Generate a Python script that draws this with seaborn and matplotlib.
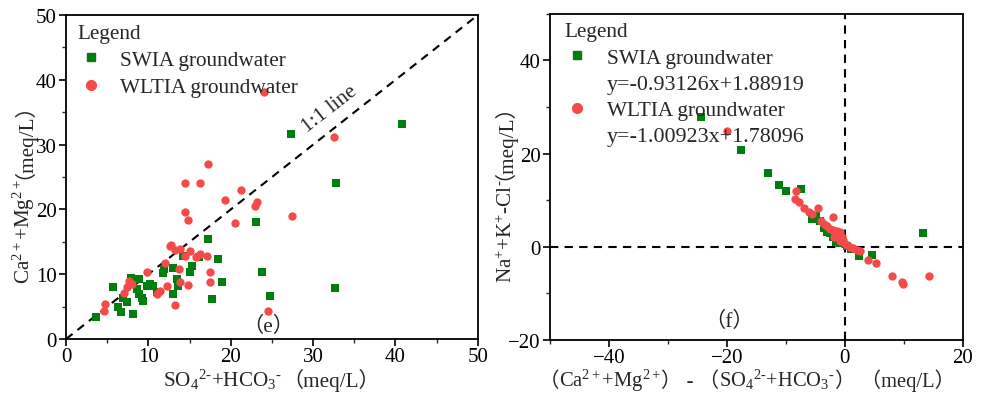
import numpy as np
import pandas as pd
import matplotlib
matplotlib.use("Agg")
import matplotlib.pyplot as plt
from matplotlib.lines import Line2D
from matplotlib.ticker import MultipleLocator
import seaborn as sns

# ---- Panel (e): (SO4 + HCO3) vs (Ca + Mg), meq/L ----
swia_e_x = [3.6, 5.7, 6.3, 6.7, 7.4, 8.1, 7.9, 8.9, 8.6, 8.9, 9.4, 9.8, 10.6, 11.8,
            11.9, 13.0, 13.0, 13.5, 13.6, 14.2, 15.0, 15.3, 16.2, 17.2, 18.4, 18.9,
            17.7, 23.8, 24.8, 32.6, 23.1, 27.3, 40.8, 32.8, 9.2, 10.2, 6.9, 11.0]
swia_e_y = [3.4, 8.0, 4.9, 4.2, 5.7, 3.9, 9.4, 9.3, 7.7, 7.0, 5.9, 8.2, 8.2, 10.2,
            10.8, 6.9, 11.0, 9.3, 8.2, 12.8, 10.3, 11.3, 12.7, 15.4, 12.3, 8.8,
            6.2, 10.3, 6.6, 7.9, 18.0, 31.6, 33.2, 24.1, 6.3, 8.5, 6.4, 7.3]

wltia_e_x = [4.7, 4.6, 7.0, 7.4, 7.6, 8.0, 9.8, 11.0, 11.4, 12.3, 12.6, 13.2, 13.2,
             12.7, 13.8, 14.4, 15.0, 15.8, 16.3, 17.1, 13.7, 13.8, 14.8, 17.5, 17.5,
             17.2, 14.4, 16.3, 21.2, 19.3, 23.2, 23.0, 14.4, 14.8, 20.5, 24.0, 32.5,
             27.5, 24.5, 12.0]
wltia_e_y = [5.4, 4.3, 7.1, 8.0, 8.9, 8.5, 10.3, 6.9, 7.4, 8.2, 14.4, 13.7, 5.3,
             14.5, 13.9, 12.8, 13.6, 12.7, 13.1, 12.8, 10.8, 8.8, 8.3, 10.3, 8.8,
             27.0, 24.1, 24.1, 23.0, 21.4, 21.1, 20.5, 19.6, 18.4, 17.9, 38.1, 31.2,
             19.0, 4.3, 11.8]

# ---- Panel (f): (Ca+Mg)-(SO4+HCO3) vs Na+K-Cl, meq/L ----
swia_f_x = [-24.4, -17.6, -13.1, -11.2, -10.0, -7.5, -4.9, -5.5, -3.6, -3.0, -2.0,
            -1.5, -0.8, 0.3, 1.0, 2.4, 4.6, 13.2, -4.2, -2.6]
swia_f_y = [27.8, 20.7, 15.8, 13.2, 12.0, 12.4, 6.6, 6.0, 4.1, 3.2, 2.1,
            1.0, 0.8, 0.2, -0.5, -1.9, -1.7, 3.0, 5.5, 3.0]

wltia_f_x = [-20.0, -8.3, -8.5, -7.8, -6.9, -6.1, -4.6, -5.5, -4.1, -2.0, -3.5, -3.0,
             -2.5, -2.0, -1.4, -0.8, -1.2, -0.5, -0.3, 0.0, 0.4, 0.8, 1.3, 2.0, 2.5,
             3.9, 5.3, 8.0, 9.7, 9.8, 14.2, -1.8, -0.9]
wltia_f_y = [24.8, 12.0, 10.3, 9.6, 8.3, 7.5, 8.3, 7.0, 5.6, 6.4, 4.8, 4.5,
             3.8, 3.6, 3.4, 3.2, 2.8, 2.1, 1.5, 0.6, 0.3, 0.0, -0.2, -0.6, -0.9,
             -2.8, -3.4, -6.2, -7.5, -8.1, -6.2, 2.0, 1.2]

series_names = ["SWIA groundwater", "WLTIA groundwater"]
fit_labels = ["y=-0.93126x+1.88919", "y=-1.00923x+1.78096"]

GREEN = "#007F0E"
RED = "#F44A4A"

SERIF = ["Liberation Serif", "Noto Sans CJK SC"]

sns.set_style("ticks")
plt.rcParams["font.family"] = SERIF
plt.rcParams["mathtext.fontset"] = "custom"
plt.rcParams["mathtext.rm"] = "Liberation Serif"
plt.rcParams["mathtext.it"] = "Liberation Serif:italic"
plt.rcParams["mathtext.bf"] = "Liberation Serif:bold"
plt.rcParams["axes.linewidth"] = 1.3
plt.rcParams["xtick.major.width"] = 1.2
plt.rcParams["ytick.major.width"] = 1.2
plt.rcParams["xtick.minor.width"] = 1.0
plt.rcParams["ytick.minor.width"] = 1.0
plt.rcParams["xtick.direction"] = "out"
plt.rcParams["ytick.direction"] = "out"

FS = 15.3       # legend / annotation text
EQ_FS = 15.8
TICK_FS = 15
LABEL_FS = 15.2
PLAIN_SHIFT = 13  # sideways nudge for plain (non-math) pieces of rotated labels (px)

fig = plt.figure(figsize=(9.83, 4.02), dpi=100)
ax1 = fig.add_axes([0.0671, 0.154, 0.419, 0.806])
ax2 = fig.add_axes([0.5595, 0.152, 0.420, 0.811])

df_e = pd.concat([
    pd.DataFrame({"x": swia_e_x, "y": swia_e_y, "group": series_names[0]}),
    pd.DataFrame({"x": wltia_e_x, "y": wltia_e_y, "group": series_names[1]}),
])
df_f = pd.concat([
    pd.DataFrame({"x": swia_f_x, "y": swia_f_y, "group": series_names[0]}),
    pd.DataFrame({"x": wltia_f_x, "y": wltia_f_y, "group": series_names[1]}),
])

palette = {series_names[0]: GREEN, series_names[1]: RED}
markers = {series_names[0]: "s", series_names[1]: "o"}
sizes = {series_names[0]: 28, series_names[1]: 36}

for ax, df in [(ax1, df_e), (ax2, df_f)]:
    for name in series_names:
        sub = df[df["group"] == name]
        sns.scatterplot(data=sub, x="x", y="y", ax=ax, color=palette[name],
                        marker=markers[name], s=sizes[name], linewidth=0,
                        legend=False, zorder=3)
    for side in ["top", "right", "left", "bottom"]:
        ax.spines[side].set_visible(True)
        ax.spines[side].set_color("black")
    ax.tick_params(axis="both", which="major", length=5, labelsize=TICK_FS,
                   top=False, right=False, colors="black")
    ax.tick_params(axis="both", which="minor", length=3, top=False, right=False)
    ax.tick_params(axis="y", which="major", pad=1.5)
    ax.set_xlabel("")
    ax.set_ylabel("")

ax1.tick_params(axis="x", which="major", pad=1.0)
ax2.tick_params(axis="x", which="major", pad=0.8)


def compose_label(ax, parts, pos, rotation=0, size=LABEL_FS):
    """Lay out several text pieces end to end, centred on pos."""
    texts = []
    for s in parts:
        if rotation == 0:
            kw = dict(ha="left", va="baseline", rotation_mode="anchor")
        else:
            kw = dict(ha="right", va="bottom", rotation=rotation)
        t = ax.annotate(s, xy=pos, xycoords="axes fraction", xytext=(0, 0),
                        textcoords="offset pixels", fontsize=size,
                        annotation_clip=False, **kw)
        is_math = "$" in s
        t._side = -PLAIN_SHIFT if (rotation != 0 and not is_math) else 0
        texts.append(t)
    return (texts, rotation)


so4_hco3 = r"SO$_4$$^{2\text{-}}$+HCO$_3$$^{\text{-}}$"
ca_mg = r"Ca$^{2+}$+Mg$^{2+}$"
na_k_cl = r"Na$^{+}$+K$^{+}$-Cl$^{\text{-}}$"
unit = "（meq/L）"

label_groups = []

# Panel (e)
ax1.plot([0, 50], [0, 50], ls=(0, (4, 3)), color="black", lw=1.5, zorder=2)
ax1.set_xlim(0, 50)
ax1.set_ylim(0, 50)
ax1.xaxis.set_major_locator(MultipleLocator(10))
ax1.yaxis.set_major_locator(MultipleLocator(10))
ax1.xaxis.set_minor_locator(MultipleLocator(5))
ax1.yaxis.set_minor_locator(MultipleLocator(5))
label_groups.append(compose_label(ax1, [so4_hco3, unit], (0.5, -0.145)))
label_groups.append(compose_label(ax1, [ca_mg, unit], (-0.07, 0.485), rotation=90))
ax1.text(32.0, 35.5, "1:1 line", rotation=38, fontsize=FS, ha="center", va="center")
ax1.text(24.6, 2.0, "（e）", fontsize=FS, ha="center", va="center")

h1 = [Line2D([], [], ls="none", marker="s", color=GREEN, markersize=6),
      Line2D([], [], ls="none", marker="o", color=RED, markersize=7)]
leg1 = ax1.legend(h1, series_names, title="Legend", loc="upper left",
                  bbox_to_anchor=(0.008, 1.0), frameon=False,
                  fontsize=FS, title_fontsize=FS, handlelength=1.2, handletextpad=0.8,
                  borderaxespad=0.0, labelspacing=0.35)
leg1._legend_box.align = "left"

# Panel (f)
ax2.axvline(0, ls=(0, (4, 3)), color="black", lw=1.5, zorder=2)
ax2.axhline(0, ls=(0, (4, 3)), color="black", lw=1.5, zorder=2)
ax2.set_xlim(-50, 20)
ax2.set_ylim(-20, 50)
ax2.xaxis.set_major_locator(MultipleLocator(20))
ax2.yaxis.set_major_locator(MultipleLocator(20))
ax2.xaxis.set_minor_locator(MultipleLocator(10))
ax2.yaxis.set_minor_locator(MultipleLocator(10))
label_groups.append(compose_label(
    ax2, ["（", ca_mg, "） - （", so4_hco3, "） （meq/L）"], (0.477, -0.142), size=14.8))
label_groups.append(compose_label(ax2, [na_k_cl, unit], (-0.08, 0.485), rotation=90))
ax2.text(-19.6, -16.0, "（f）", fontsize=FS, ha="center", va="center")

blank = Line2D([], [], ls="none", marker=None)
h2 = [Line2D([], [], ls="none", marker="s", color=GREEN, markersize=6), blank,
      Line2D([], [], ls="none", marker="o", color=RED, markersize=7), blank]
labels2 = [series_names[0], fit_labels[0], series_names[1], fit_labels[1]]
leg2 = ax2.legend(h2, labels2, title="Legend", loc="upper left",
                  bbox_to_anchor=(0.015, 1.0), frameon=False,
                  fontsize=FS, title_fontsize=FS, handlelength=1.2, handletextpad=0.8,
                  borderaxespad=0.0, labelspacing=0.3)
leg2._legend_box.align = "left"
for i in (1, 3):
    leg2.get_texts()[i].set_fontsize(EQ_FS)

# centre each composed label on its anchor point
fig.canvas.draw()
renderer = fig.canvas.get_renderer()
for texts, rot in label_groups:
    lengths = []
    for t in texts:
        bb = t.get_window_extent(renderer)
        lengths.append(bb.width if rot == 0 else bb.height)
    start = -sum(lengths) / 2.0
    for t, L in zip(texts, lengths):
        t.xyann = (start, 0) if rot == 0 else (t._side, start)
        start += L

fig.savefig("out.png", dpi=100, facecolor="white")
